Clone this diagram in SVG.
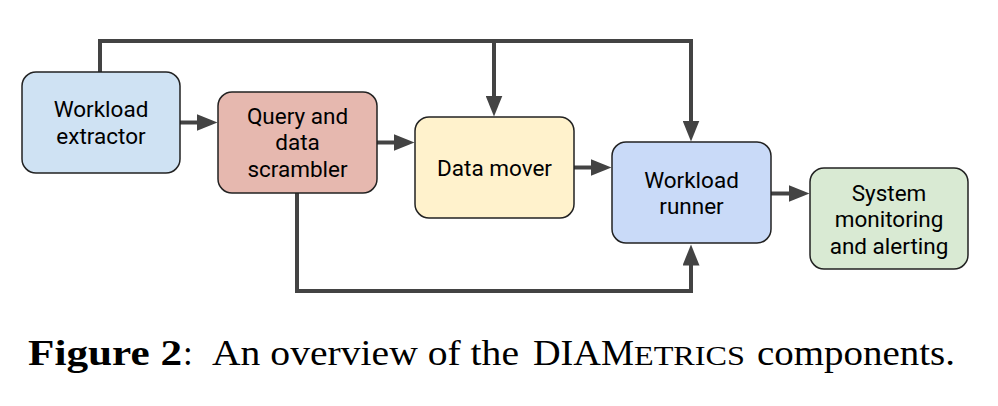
<svg xmlns="http://www.w3.org/2000/svg" width="998" height="406" viewBox="0 0 998 406">
<style>
.box{stroke:#222;stroke-width:1.5}
.lbl{font-family:Roboto,"Liberation Sans",sans-serif;font-size:22.5px;fill:#000;text-anchor:middle}
.conn{fill:none;stroke:#434343;stroke-width:4}
.cap{font-family:"Liberation Serif","DejaVu Serif",serif;font-size:35px;fill:#000}
</style>
<defs>
<marker id="ah" markerUnits="userSpaceOnUse" markerWidth="22" markerHeight="17" refX="0.5" refY="8.5" orient="auto">
<path d="M0,0 L21,8.5 L0,17 z" fill="#434343"/>
</marker>
</defs>
<rect width="998" height="406" fill="#fff"/>
<g id="connectors">
<path class="conn" d="M100,72 V41 H691 V121" marker-end="url(#ah)"/>
<path class="conn" d="M494,41 V96" marker-end="url(#ah)"/>
<path class="conn" d="M297,193 V291 H691 V265" marker-end="url(#ah)"/>
<path class="conn" d="M180,122.5 H197" marker-end="url(#ah)"/>
<path class="conn" d="M377,142.5 H394" marker-end="url(#ah)"/>
<path class="conn" d="M574,167.5 H591" marker-end="url(#ah)"/>
<path class="conn" d="M771,193.5 H789" marker-end="url(#ah)"/>
</g>
<g id="workload-extractor">
<rect class="box" x="22" y="72" width="158" height="101" rx="14" fill="#cfe2f3"/>
<text class="lbl" x="101" y="117">Workload</text>
<text class="lbl" x="101" y="143.5">extractor</text>
</g>
<g id="query-data-scrambler">
<rect class="box" x="218" y="92" width="159" height="101" rx="14" fill="#e6b8af"/>
<text class="lbl" x="297.5" y="123.5">Query and</text>
<text class="lbl" x="297.5" y="150">data</text>
<text class="lbl" x="297.5" y="176.5">scrambler</text>
</g>
<g id="data-mover">
<rect class="box" x="415" y="117" width="159" height="101" rx="14" fill="#fff2cc"/>
<text class="lbl" x="494.5" y="175.5">Data mover</text>
</g>
<g id="workload-runner">
<rect class="box" x="612" y="142" width="159" height="101" rx="14" fill="#c9daf8"/>
<text class="lbl" x="691.5" y="187.5">Workload</text>
<text class="lbl" x="691.5" y="214">runner</text>
</g>
<g id="system-monitoring">
<rect class="box" x="810" y="168" width="158" height="101" rx="14" fill="#d9ead3"/>
<text class="lbl" x="889" y="200.5">System</text>
<text class="lbl" x="889" y="227">monitoring</text>
<text class="lbl" x="889" y="253.5">and alerting</text>
</g>
<g id="caption">
<text class="cap" y="365"><tspan x="28" font-weight="bold" textLength="154" lengthAdjust="spacingAndGlyphs">Figure 2</tspan><tspan x="183">:</tspan><tspan x="212" textLength="307" lengthAdjust="spacingAndGlyphs">An overview of the</tspan><tspan x="533" textLength="68" lengthAdjust="spacingAndGlyphs">DIA</tspan><tspan x="601" textLength="33" lengthAdjust="spacingAndGlyphs">M</tspan><tspan x="634" font-size="28" textLength="111" lengthAdjust="spacingAndGlyphs">ETRICS</tspan><tspan x="757" textLength="198" lengthAdjust="spacingAndGlyphs">components.</tspan></text>
</g>
</svg>
